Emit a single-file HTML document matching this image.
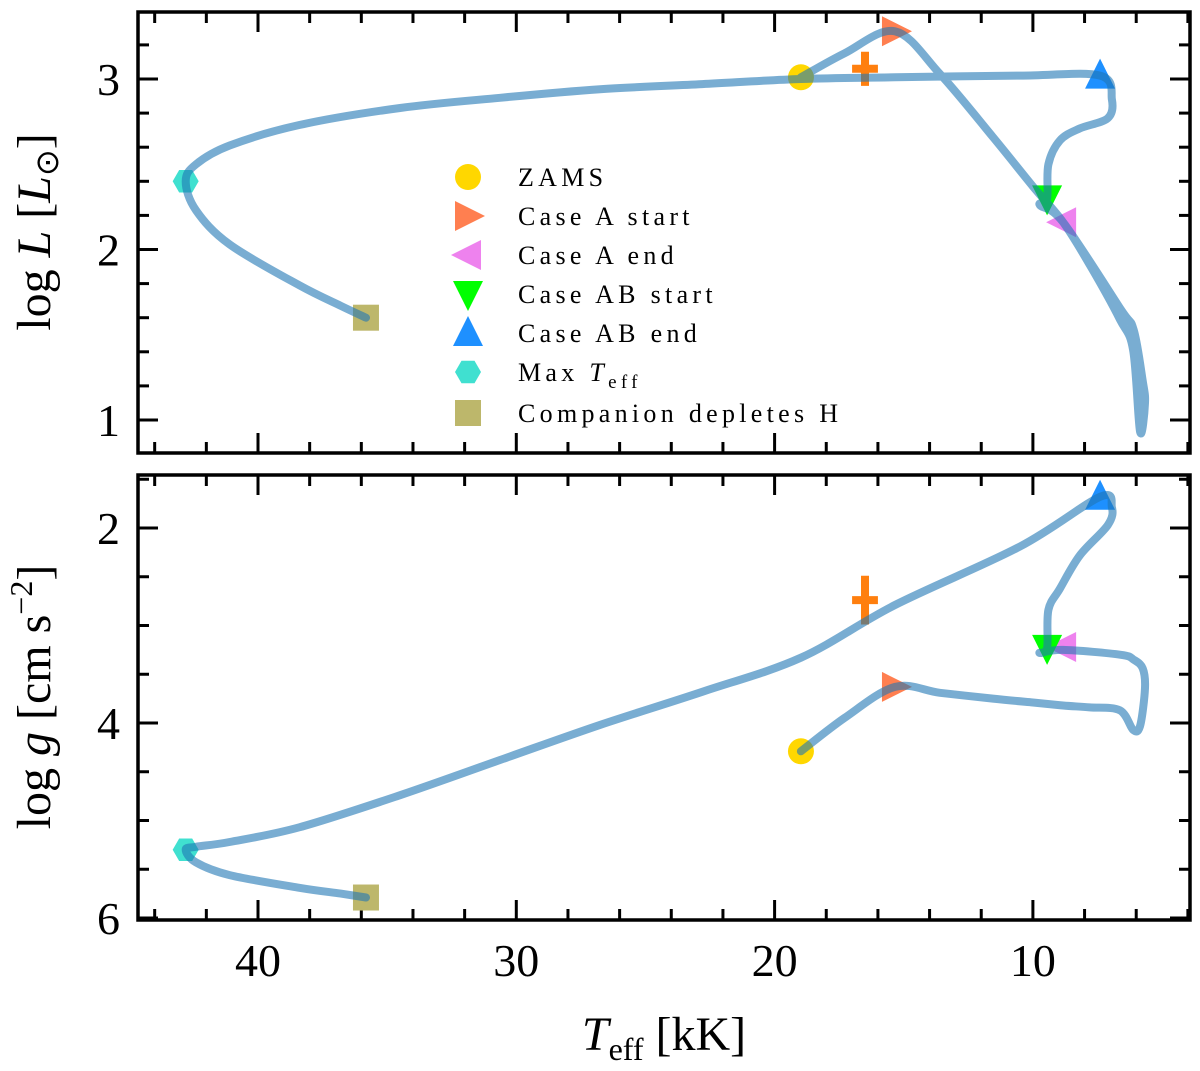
<!DOCTYPE html>
<html><head><meta charset="utf-8"><style>
body{margin:0;background:#fff}
svg{display:block}
text{font-family:"Liberation Serif",serif;fill:#000}
</style></head><body>
<svg id="chart" width="1200" height="1071" viewBox="0 0 1200 1071"></svg>
<script>
// ---- data ----
const trackTeff = [18.98,17.3,15.34,13.6,11.55,10.0,8.83,7.8,6.63,6.12,5.85,5.66,5.75,6.1,6.6,8.83,9.73,9.45,9.4,8.95,8.18,7.1,6.94,7.40,10.5,15.34,18.98,22.8,26.76,30.63,34.5,38.4,41.1,42.4,42.8,42.4,41.1,38.4,36.8,35.82];
const trackLogL = [3.01,3.15,3.28,3.03,2.66,2.37,2.16,1.91,1.59,1.41,0.93,1.10,1.23,1.53,1.65,2.16,2.26,2.30,2.50,2.64,2.71,2.77,2.88,3.02,3.02,3.01,3.00,2.97,2.94,2.89,2.83,2.73,2.61,2.50,2.40,2.23,2.03,1.79,1.67,1.60];
const trackLogg = [4.29,3.95,3.63,3.69,3.75,3.79,3.82,3.84,3.87,4.07,4.03,3.64,3.44,3.35,3.30,3.25,3.28,3.23,2.84,2.62,2.28,1.97,1.79,1.68,2.19,2.79,3.33,3.68,4.02,4.38,4.74,5.07,5.22,5.27,5.30,5.43,5.56,5.69,5.75,5.79];
const markerNames = ["ZAMS","Case A start","Case A end","Case AB start","Case AB end","Max T_eff","Companion depletes H"];
const markerTeff = [18.98,15.34,8.83,9.45,7.40,42.8,35.82];
const markerLogL = [3.01,3.28,2.16,2.30,3.02,2.40,1.60];
const markerLogg = [4.29,3.63,3.22,3.23,1.68,5.30,5.79];
const obsTeff = [16.5], obsTeffErr = [0.5];
const obsLogL = [3.06], obsLogLErr = [0.1];
const obsLogg = [2.74], obsLoggErr = [0.25];
const xTicks = [10,20,30,40];
const yTopTicks = [1,2,3];
const yBotTicks = [2,4,6];

// ---- scales ----
const X0=138,X1=1190;
const xs = t => 258 + (40 - t) * 25.83;
const T1=12,B1=453, T2=475,B2=920;
const yL = v => 79 - (v - 3) * 170.5;
const yG = v => 528 + (v - 2) * 97.5;
const NS="http://www.w3.org/2000/svg";
const svg=document.getElementById('chart');
function mk(tag,attrs,parent){const e=document.createElementNS(NS,tag);for(const k in attrs)e.setAttribute(k,attrs[k]);(parent||svg).appendChild(e);return e;}

function panel(name,top,bot,ys,ticksMajor,minorStep,vmin,vmax){
  const g=mk('g',{});
  
  
  for(let t=4;t<=44;t+=2){
    const x=xs(t); if(x<X0||x>X1)continue;
    const L=(t%10===0)?20:11;
    mk('line',{x1:x,x2:x,y1:bot,y2:bot-L,stroke:'#000','stroke-width':3},g);
    mk('line',{x1:x,x2:x,y1:top,y2:top+L,stroke:'#000','stroke-width':3},g);
  }
  for(let v=vmin; v<=vmax+1e-9; v+=minorStep){
    const y=ys(v); if(y<top||y>bot)continue;
    const major=ticksMajor.some(m=>Math.abs(m-v)<1e-6);
    const L=major?20:11;
    mk('line',{x1:X0,x2:X0+L,y1:y,y2:y,stroke:'#000','stroke-width':3},g);
    mk('line',{x1:X1,x2:X1-L,y1:y,y2:y,stroke:'#000','stroke-width':3},g);
  }
  ticksMajor.forEach(v=>{
    const t=mk('text',{x:120,y:ys(v)+16,'text-anchor':'end','font-size':46},g);
    t.textContent=v;
    
    
  });
  return g;
}
panel('top',T1,B1,yL,yTopTicks,0.2,0.8,3.4);
panel('bottom',T2,B2,yG,yBotTicks,0.5,1.5,6);
xTicks.forEach(v=>{
  const t=mk('text',{x:xs(v),y:976,'text-anchor':'middle','font-size':46});
  t.textContent=v;
  
  
});

const colors=['#ffd700','#ff7f50','#ee82ee','#00ff00','#1e90ff','#40e0d0','#bdb76b'];
function marker(i,cx,cy,parent){
  let e;
  if(i===0) e=mk('circle',{cx,cy,r:13,fill:colors[i]},parent);
  else if(i===1) e=mk('polygon',{points:`${cx-13},${cy-15} ${cx-13},${cy+15} ${cx+17},${cy}`,fill:colors[i]},parent);
  else if(i===2) e=mk('polygon',{points:`${cx+13},${cy-15} ${cx+13},${cy+15} ${cx-17},${cy}`,fill:colors[i]},parent);
  else if(i===3) e=mk('polygon',{points:`${cx-15},${cy-13} ${cx+15},${cy-13} ${cx},${cy+17}`,fill:colors[i]},parent);
  else if(i===4) e=mk('polygon',{points:`${cx-15},${cy+13} ${cx+15},${cy+13} ${cx},${cy-17}`,fill:colors[i]},parent);
  else if(i===5){let p=[];for(let k=0;k<6;k++){const a=Math.PI/3*k;p.push((cx+13*Math.cos(a))+','+(cy+13*Math.sin(a)));}e=mk('polygon',{points:p.join(' '),fill:colors[i]},parent);}
  else e=mk('rect',{x:cx-13,y:cy-13,width:26,height:26,fill:colors[i]},parent);
  return e;
}
function smoothPath(pts){
  let d='M'+pts[0][0].toFixed(1)+','+pts[0][1].toFixed(1);
  for(let i=0;i<pts.length-1;i++){
    const p0=pts[Math.max(0,i-1)],p1=pts[i],p2=pts[i+1],p3=pts[Math.min(pts.length-1,i+2)];
    const k=1/6;
    const c1=[p1[0]+(p2[0]-p0[0])*k,p1[1]+(p2[1]-p0[1])*k];
    const c2=[p2[0]-(p3[0]-p1[0])*k,p2[1]-(p3[1]-p1[1])*k];
    d+='C'+c1[0].toFixed(1)+','+c1[1].toFixed(1)+' '+c2[0].toFixed(1)+','+c2[1].toFixed(1)+' '+p2[0].toFixed(1)+','+p2[1].toFixed(1);
  }
  return d;
}
function drawPanel(name,ys,yvals,obsY,obsErr){
  const g=mk('g',{});
  
  
  obsTeff.forEach((t,k)=>{
    const cx=xs(t), cy=ys(obsY[k]);
    const h=mk('line',{x1:xs(t+obsTeffErr[k]),x2:xs(t-obsTeffErr[k]),y1:cy,y2:cy,stroke:'#ff7f0e','stroke-width':8},g);
    
    
    const v=mk('line',{x1:cx,x2:cx,y1:ys(obsY[k]-obsErr[k]),y2:ys(obsY[k]+obsErr[k]),stroke:'#ff7f0e','stroke-width':8},g);
    
    
  });
  markerTeff.forEach((t,i)=>{
    const m=marker(i,xs(t),ys(yvals==='L'?markerLogL[i]:markerLogg[i]),g);
    
    
  });
  const arr=yvals==='L'?trackLogL:trackLogg;
  const pts=trackTeff.map((t,i)=>[xs(t),ys(arr[i])]);
  const p=mk('path',{d:smoothPath(pts),fill:'none',stroke:'#1f77b4','stroke-opacity':0.6,'stroke-width':8,'stroke-linejoin':'round','stroke-linecap':'round'},g);
  
  
}
drawPanel('top',yL,'L',obsLogL,obsLogLErr);
drawPanel('bottom',yG,'g',obsLogg,obsLoggErr);

const f1=mk('rect',{x:X0,y:T1,width:X1-X0,height:B1-T1,fill:'none',stroke:'#000','stroke-width':3.5});


const f2=mk('rect',{x:X0,y:T2,width:X1-X0,height:B2-T2,fill:'none',stroke:'#000','stroke-width':3.5});



const lg=mk('g',{});


const legY=[177,216,255,294,333,372,413];
markerNames.forEach((n,i)=>{
  const m=marker(i,468,legY[i],lg);
  
  
  const t=mk('text',{x:518,y:legY[i]+9,'font-size':26,'letter-spacing':'4.3'},lg);
  if(i===5){t.innerHTML='Max <tspan font-style="italic">T</tspan><tspan font-size="19" dy="7">eff</tspan>';}
  else t.textContent=n;
  
  
});
</script>
<div style="position:absolute;left:0;top:0;width:1200px;height:1071px;pointer-events:none">
<svg width="1200" height="1071" style="position:absolute;left:0;top:0">
<text transform="translate(50,232) rotate(-90)" text-anchor="middle" font-size="48" style="font-family:'Liberation Serif',serif">log <tspan font-style="italic">L</tspan> [<tspan font-style="italic">L</tspan><tspan font-size="32" dy="8">⊙</tspan><tspan dy="-8">]</tspan></text>
<text transform="translate(50,697) rotate(-90)" text-anchor="middle" font-size="48" style="font-family:'Liberation Serif',serif">log <tspan font-style="italic">g</tspan> [cm s<tspan font-size="32" dy="-18">−2</tspan><tspan dy="18">]</tspan></text>
<text x="664" y="1050" text-anchor="middle" font-size="48" style="font-family:'Liberation Serif',serif"><tspan font-style="italic">T</tspan><tspan font-size="32" dy="10">eff</tspan><tspan dy="-10"> [kK]</tspan></text>
</svg></div>
</body></html>
